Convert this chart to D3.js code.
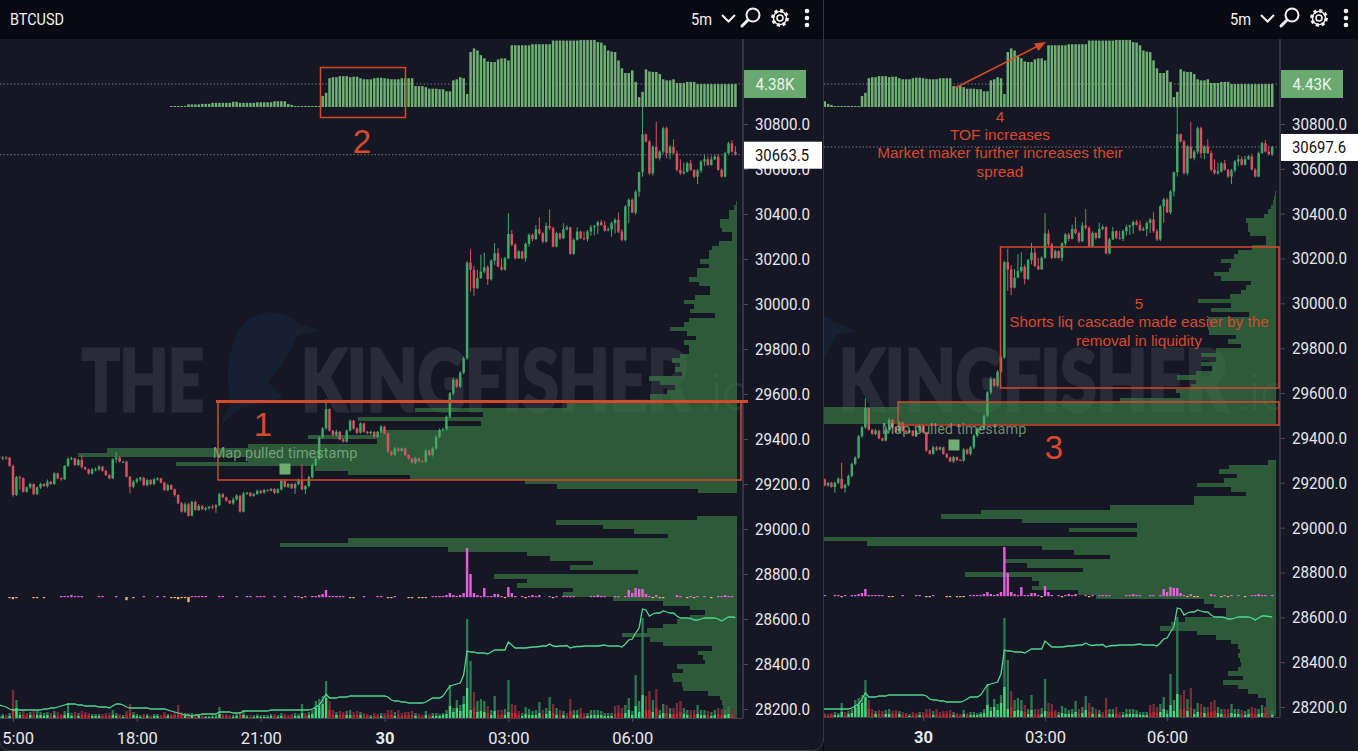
<!DOCTYPE html>
<html><head><meta charset="utf-8">
<style>html,body{margin:0;padding:0;background:#08090e;overflow:hidden}svg{display:block}text{font-family:Roboto,sans-serif}</style>
<script src="https://cdn.jsdelivr.net/npm/d3@7"></script></head><body>
<svg id="c" width="1358" height="751"></svg>
<script>
// candle closes, 5-minute candles, index -4 (14:40) onward
const closes=[29318,29318,29317,29280,29151,29230,29225,29166,29185,29200,29155,29185,29200,29191,29210,29200,29247,29225,29221,29280,29312,29314,29284,29307,29274,29265,29247,29265,29265,29277,29259,29240,29225,29310,29318,29299,29299,29232,29188,29210,29221,29228,29195,29218,29200,29221,29225,29206,29173,29195,29176,29151,29114,29077,29110,29059,29120,29084,29102,29087,29093,29099,29096,29105,29154,29141,29126,29114,29132,29148,29077,29158,29161,29147,29155,29170,29161,29173,29170,29178,29161,29176,29215,29188,29200,29181,29200,29218,29176,29191,29230,29284,29312,29407,29447,29533,29437,29418,29432,29398,29388,29437,29481,29447,29428,29469,29432,29425,29432,29410,29432,29455,29425,29344,29329,29358,29348,29358,29329,29314,29295,29314,29302,29299,29348,29329,29358,29410,29440,29443,29499,29603,29663,29633,29695,29759,30184,
30152,30070,30115,30144,30163,30110,30193,30226,30166,30152,30203,30311,30263,30203,30233,30203,30267,30307,30288,30332,30314,30277,30347,30337,30255,30314,30292,30332,30341,30223,30285,30322,30292,30288,30322,30341,30347,30363,30351,30326,30332,30359,30374,30322,30285,30433,30463,30406,30499,
30585,30754,30722,30581,30699,30648,30677,30781,30670,30699,30670,30596,30581,30588,30625,30596,30566,30593,30633,30643,30618,30643,30655,30596,30566,30670,30714,30677,30664,30698];
const upperWick=[6,6,7,3,7,6,7,4,4,6,3,4,6,5,10,4,7,3,4,4,6,7,3,6,22,4,4,7,9,7,3,4,4,4,25,6,4,3,3,7,7,4,4,6,3,4,4,3,4,7,4,4,3,6,9,7,6,6,9,4,6,3,9,6,7,6,3,3,9,6,3,7,4,4,6,6,4,6,4,4,3,6,6,4,4,4,6,6,71,4,6,6,6,6,6,43,3,3,9,4,4,6,7,4,4,6,4,4,6,3,4,7,4,3,3,7,6,4,3,3,3,6,3,3,7,4,6,6,7,7,6,6,10,4,7,7,6,
60,18,37,75,65,10,6,44,22,37,7,92,18,7,7,4,6,7,7,19,53,7,15,74,7,7,3,27,10,2,7,19,4,30,7,10,4,7,10,19,9,7,7,33,10,7,7,7,7,3,123,4,7,7,111,7,7,7,7,33,12,47,40,7,15,3,7,7,19,12,15,7,12,7,7,7,15,25,4];
const lowerWick=[9,12,10,3,7,4,50,4,6,7,4,4,7,4,7,4,4,4,6,3,4,6,4,4,4,3,6,6,9,6,4,4,4,3,15,4,4,3,30,7,7,9,4,6,6,6,6,3,4,6,3,7,3,4,6,4,3,3,4,3,7,7,7,24,3,4,4,3,6,6,4,3,6,4,4,3,6,4,4,3,6,3,6,4,6,3,25,6,4,20,6,6,6,6,6,6,4,4,6,4,3,4,4,6,6,4,4,4,6,4,3,7,4,7,4,4,7,4,4,6,4,7,6,3,6,4,7,7,7,7,6,6,9,6,7,7,7,
97,34,3,3,7,25,6,19,3,3,3,4,7,7,3,4,15,12,10,3,7,7,4,7,3,3,7,4,6,4,4,3,4,3,10,19,36,36,4,4,3,33,45,7,7,7,74,3,10,22,19,4,7,10,4,10,10,22,27,3,7,7,7,4,4,7,33,10,19,4,3,3,3,4,3,3,4,4,7];
// taker order flow histogram in thousands, index 46 onward
const tofK=[.2,.2,.2,.2,.2,.5,.5,.5,.5,.6,.6,.6,.8,.8,.8,.8,.8,.8,1,1,.8,.8,.8,.8,.8,.9,.9,.9,.9,.9,1.1,1.1,1.1,1.1,.6,.4,.2,.2,.2,.2,.2,.2,.2,.2,2.1,2.7,5.5,5.7,5.7,5.9,5.9,5.9,5.7,5.8,5.8,5.5,5.3,5.3,5.3,5.5,5.6,5.6,5.5,5.4,5.3,5.3,5.3,5.5,5.5,5.5,5.5,4,4,4,3.8,3.5,3.5,3.5,3.4,3.4,3,3,5.1,5.3,5.7,5.5,2.5,10.5,11.2,10.8,9.9,9.3,8.7,8.6,8.6,9.1,9.3,9.3,8.9,11.8,11.8,11.8,11.8,11.8,11.8,12,12,12,12,12,12,12.7,12.7,12.7,12.7,12.7,12.7,12.7,12.7,12.8,12.8,12.8,12.8,12.8,12.4,12.3,11.8,10.8,10.6,10.5,8.9,7.4,6.5,6.5,7,4.8,1.9,2.9,7.2,6.8,6.7,6.7,6.3,5.3,5.1,5.1,5.3,4.6,4.6,4.6,4.8,4.8,4.8,4.38,4.38,4.38,4.38,4.38,4.38,4.38,4.38,4.38,4.38,4.38,4.38,4.43];
// volume (negative = sell candle) and its brighter taker share
const volumes=[3,4,-3,5,-28,18,6,-8,-5,6,-7,7,6,5,6,-5,7,-6,-4,7,15,5,-6,5,-7,-6,-5,4,4,4,-4,-5,-5,8,5,-4,3,-7,-14,6,4,3,-4,4,-3,4,4,-3,-6,4,-4,-6,-13,-6,5,-5,5,-3,4,-3,2,2,3,3,11,-4,-4,-3,3,4,-6,8,3,-3,3,4,3,3,3,4,-4,3,5,-4,-3,-4,5,4,14,-5,6,8,17,19,22,37,-17,-8,6,-7,-6,7,8,-6,-7,6,-5,-4,3,-5,-4,5,-5,-8,-8,6,-8,-5,-6,-6,-7,5,-4,-3,7,-4,5,5,4,5,8,33,10,18,13,22,99,57,-26,17,19,17,-12,8,22,-8,-8,9,38,-14,-13,-7,5,11,9,7,8,16,-8,10,21,-14,10,-8,7,-5,-19,8,8,-10,-5,5,8,8,8,7,5,5,5,-12,-13,-10,13,20,7,43,17,100,-22,-27,18,-29,8,14,-13,10,-10,-15,-17,10,8,-8,-8,13,8,8,-7,6,8,-10,-9,8,12,-10,-2,6];
const brightVol=[1,2,1,2,10,10,3,3,2,3,3,3,3,2,3,2,3,2,2,3,5,2,3,2,3,3,2,2,2,2,2,2,2,3,2,2,1,3,5,3,2,1,2,2,1,2,2,1,3,2,2,3,5,3,2,2,2,1,2,1,1,1,1,1,4,2,2,1,1,2,3,3,1,1,1,2,1,1,1,2,2,1,2,2,1,2,2,2,5,2,3,4,10,12,14,20,8,3,3,3,3,3,3,3,3,3,2,2,1,2,2,2,2,3,3,2,3,2,3,3,3,2,2,1,3,2,2,2,2,3,4,12,6,10,7,14,30,8,10,6,7,6,5,3,7,3,3,3,6,5,5,3,2,4,3,3,3,5,3,4,7,5,3,3,3,2,7,3,3,4,2,2,3,3,3,3,2,2,2,4,5,4,5,8,3,12,6,23,8,8,6,10,3,5,5,4,4,5,6,4,3,3,3,4,3,3,3,2,3,4,3,3,4,4,1,2];
// open-interest style line
const oiLine=[13,12,11,9,8,8,8,8,8,8,8,8,8,9,9,10,10,11,12,13,14,14,14,13,13,12,12,12,12,11,11,11,10,12,14,14,13,11,10,10,10,10,10,10,9,9,9,9,9,8,7,6,5,4,3,3,2,3,3,4,4,4,4,4,6,6,6,6,5,5,5,7,7,7,7,7,7,7,7,8,8,8,8,8,8,8,8,8,8,8,8,9,11,13,18,24,20,20,20,21,21,21,22,22,22,22,22,22,22,22,22,22,22,21,18,17,17,16,16,15,15,15,15,15,16,18,20,20,20,22,27,32,33,34,35,43,67,66,66,65,65,65,64,66,68,68,68,68,76,73,70,70,70,70,70.5,71,71,71.5,72,72,74,72,71.5,72,72,72.5,70,71,71.5,71.5,72,72,72,72,72,72.5,73,72,72,72,72,71,74,78,79,85,90,109,108,102,104,105,105,107,106,105,105,102,100,100,100,99.5,98,98,99,100,100,100,100,99,97,99,101,101,100.5,100];
// liquidations: positive magenta, negative orange
const liquidations=[0,0,0,-1,-2,-1,0,0,0,0,-1,-1,0,-1,0,0,0,0,1,1,1,2,1,1,1,0,0,0,0,1,1,0,0,0,1,0,0,-3,0,-1,0,0,1,0,0,0,1,0,1,0,-1,-1,-2,-1,-1,-5,1,1,1,1,1,0,0,0,1,1,0,0,0,1,0,0,1,1,0,1,1,1,0,0,1,0,0,1,0,0,1,1,-1,1,0,1,1,2,3,7,1,1,1,1,1,0,-1,-1,0,0,1,0,0,0,1,1,0,-1,-1,1,0,0,0,-1,-1,0,-1,-1,-1,0,1,1,1,1,2,4,2,1,2,4,49,23,4,2,1,9,1,1,3,3,1,-1,10,4,1,0,1,-1,1,2,1,2,0,0,1,-1,1,0,1,1,1,1,0,0,0,0,1,1,2,1,1,0,0,1,1,0,1,7,4,9,8,8,3,1,-1,2,-1,-1,0,0,0,2,1,0,-1,1,-1,1,0,1,0,-1,0,1,1,2,1,1,0,1];
// order-book depth per 20 USD price row, top row 30500
const depthLeft=[0,0,1,3,8,8,17,17,15,5,5,18,25,28,28,37,28,40,40,48,38,27,27,42,53,43,47,22,48,53,67,50,41,53,48,48,57,65,57,62,55,88,77,62,70,87,87,170,322,254,379,256,290,357,429,360,489,630,659,489,561,422,389,327,212,180,39,0,0,0,0,0,40,181,134,103,69,389,457,289,210,187,144,167,99,243,210,220,164,174,124,74,47,32,47,60,74,90,115,87,74,25,39,34,32,60,54,65,64,55,54,29,17,15,14,14,14];
const depthRight=[1,2,3,5,8,12,30,28,28,26,10,10,24,38,42,55,45,47,62,55,25,30,35,46,78,45,65,27,68,67,68,67,40,48,35,60,75,60,75,64,80,99,80,85,100,96,156,377,470,470,470,470,0,0,0,0,0,0,0,0,8,47,57,39,52,79,45,30,82,82,166,295,335,254,139,207,139,470,409,234,202,166,271,249,193,311,244,237,244,198,180,72,62,50,50,91,105,116,79,60,45,38,36,38,36,35,38,48,33,53,38,28,18,10,10,12,10];
const priceTicks=[30800,30600,30400,30200,30000,29800,29600,29400,29200,29000,28800,28600,28400,28200];
const timeTicksLeft=[[0,"15:00"],[36,"18:00"],[72,"21:00"],[108,"30"],[144,"03:00"],[180,"06:00"]];
const timeTicksRight=[[108,"30"],[144,"03:00"],[180,"06:00"]];

const firstIdx=-4, tofFirst=46;
const candles=closes.map((c,k)=>{const o=k?closes[k-1]:c+4;return{i:k+firstIdx,o,c,h:Math.max(o,c)+(upperWick[k]??3),l:Math.min(o,c)-(lowerWick[k]??3)}});
const svg=d3.select("#c"), defs=svg.append("defs");
const ORANGE="#d8492b";

svg.append("rect").attr("width",1358).attr("height",751).attr("fill","#08090e");

function watermark(g,dx){
  const w=g.append("g").attr("transform",`translate(${dx},0)`);
  w.append("path").attr("d","M318 331L296 322C278 306 250 310 238 332C226 356 226 384 231 402L221 424L242 408L283 398L268 382C284 364 292 348 298 335Z").attr("fill","#1a2d3d").attr("opacity",.45);
  const t=w.append("g").attr("opacity",.085);
  const big=(s,x,l)=>t.append("text").attr("x",x).attr("y",411).attr("font-size",85).attr("font-weight",900).attr("textLength",l).attr("lengthAdjust","spacingAndGlyphs").attr("fill","#fff").attr("stroke","#fff").attr("stroke-width",3).style("font-family","Lato,Roboto").text(s);
  big("THE",82,122); big("KINGFISHER",301,389);
  w.append("text").attr("x",699).attr("y",410).attr("font-size",50).attr("font-weight",300).attr("fill","#fff").attr("fill-opacity",.09).text(".io");
}

function panel(o){
  const id="clip"+o.name;
  defs.append("clipPath").attr("id",id).append("rect").attr("x",o.x0).attr("y",39).attr("width",o.axisX-o.x0).attr("height",679);
  const root=svg.append("g");
  root.append("rect").attr("x",o.x0).attr("y",0).attr("width",o.x1-o.x0).attr("height",751).attr("rx",0).attr("fill","#151725");
  root.append("rect").attr("x",o.x0).attr("y",0).attr("width",o.x1-o.x0).attr("height",39).attr("fill","#090a11");
  const x=d3.scaleLinear().domain([0,216]).range([o.xAt0,o.xAt0+216*o.step]);
  const y=d3.scaleLinear().domain([30800,28200]).range([124,o.y28200]);
  const plot=root.append("g").attr("clip-path",`url(#${id})`);
  watermark(plot,o.wmDx);
  // depth profile
  const depthX=d3.scaleLinear().domain([0,800]).range([o.edge,o.edge-800]);
  plot.append("g").attr("shape-rendering","crispEdges").selectAll("rect").data(o.depth).join("rect")
    .attr("x",d=>depthX(d)).attr("width",d=>o.edge-depthX(d))
    .attr("y",(d,k)=>y(30500-20*k)).attr("height",(d,k)=>y(30480-20*k)-y(30500-20*k))
    .attr("fill","#3a7e45").attr("fill-opacity",.66);
  // dotted lines
  [84,y(o.last)].forEach(v=>plot.append("line").attr("x1",o.x0).attr("x2",o.axisX).attr("y1",v).attr("y2",v).attr("stroke","#8d909a").attr("stroke-width",1).attr("stroke-dasharray","1.5 2").attr("opacity",.8));
  const cs=candles.filter(d=>d.i<=o.lastIdx);
  // TOF
  const tofY=d3.scaleLinear().domain([0,13]).range([107,39]);
  plot.append("g").selectAll("rect").data(tofK.map((v,k)=>({i:k+tofFirst,v})).filter(d=>d.i<=o.lastIdx)).join("rect")
    .attr("x",d=>x(d.i)-1.2).attr("width",2.5).attr("y",d=>tofY(d.v)).attr("height",d=>107-tofY(d.v)).attr("fill","#6fb073");
  // volumes
  const volY=d3.scaleLinear().domain([0,100]).range([o.base,o.base-100]);
  plot.append("g").selectAll("rect").data(volumes.slice(0,o.lastIdx-firstIdx+1)).join("rect")
    .attr("x",(d,k)=>x(k+firstIdx)-1.1).attr("width",2.3).attr("y",d=>volY(Math.abs(d))).attr("height",d=>o.base-volY(Math.abs(d)))
    .attr("fill",d=>d>=0?"#2d7a50":"#7c2a38");
  plot.append("g").selectAll("rect").data(brightVol.slice(0,o.lastIdx-firstIdx+1)).join("rect")
    .attr("x",(d,k)=>x(k+firstIdx)-1.1).attr("width",2.3).attr("y",d=>volY(d)).attr("height",d=>o.base-volY(d))
    .attr("fill",(d,k)=>volumes[k]>=0?"#44d87d":"#c9252f");
  // liquidations
  const liqY=d3.scaleLinear().domain([0,50]).range([o.liqBase,o.liqBase-50]);
  plot.append("g").selectAll("rect").data(liquidations.slice(0,o.lastIdx-firstIdx+1).map((v,k)=>({i:k+firstIdx,v})).filter(d=>d.v)).join("rect")
    .attr("x",d=>x(d.i)-1.2).attr("width",2.4)
    .attr("y",d=>d.v>0?liqY(d.v):o.liqBase).attr("height",d=>Math.abs(d.v)*1+.2)
    .attr("fill",d=>d.v>0?"#e65fdc":"#f0b06a");
  // candles
  plot.append("g").selectAll("line").data(cs).join("line")
    .attr("x1",d=>x(d.i)).attr("x2",d=>x(d.i)).attr("y1",d=>y(d.h)).attr("y2",d=>y(d.l))
    .attr("stroke",d=>d.c>=d.o?"#40a866":"#d9505f").attr("stroke-width",1);
  plot.append("g").selectAll("rect").data(cs).join("rect")
    .attr("x",d=>x(d.i)-1.25).attr("width",2.5)
    .attr("y",d=>y(Math.max(d.o,d.c))).attr("height",d=>Math.max(1,Math.abs(y(d.o)-y(d.c))))
    .attr("fill",d=>d.c>=d.o?"#40a866":"#d9505f");
  // OI line
  const oiY=d3.scaleLinear().domain([0,100]).range([o.base,o.base-100]);
  plot.append("path").datum(oiLine.slice(0,o.lastIdx-firstIdx+1)).attr("fill","none").attr("stroke","#4fd98f").attr("stroke-width",1.3)
    .attr("d",d3.line().x((d,k)=>x(k+firstIdx)).y(d=>oiY(d)));
  // axes
  const ya=root.append("g").attr("transform",`translate(${o.axisX},0)`)
    .call(d3.axisRight(y).tickValues(priceTicks).tickSize(5).tickPadding(7).tickFormat(d=>d.toFixed(1)));
  ya.select(".domain").remove();
  ya.selectAll("line").attr("stroke","#4a4d5a");
  ya.selectAll("text").attr("fill","#e8e9ee").attr("font-size",17).style("font-family","Roboto").attr("textLength",55).attr("lengthAdjust","spacingAndGlyphs");
  const tick=o.name==="L"?timeTicksLeft:timeTicksRight;
  const xa=root.append("g").attr("transform",`translate(0,${o.base})`)
    .call(d3.axisBottom(x).tickValues(tick.map(d=>d[0])).tickSize(4).tickPadding(10).tickFormat(d=>tick.find(t=>t[0]===d)[1]));
  xa.select(".domain").remove();
  xa.selectAll("line").attr("stroke","#4a4d5a");
  xa.selectAll("text").attr("fill","#e8e9ee").attr("font-size",16.5).attr("font-weight",d=>d===108?700:400).style("font-family","Roboto");
  root.append("line").attr("x1",o.axisX).attr("x2",o.axisX).attr("y1",39).attr("y2",o.base).attr("stroke","#3e414e").attr("stroke-width",1.5);
  root.append("line").attr("x1",o.x0).attr("x2",o.axisX).attr("y1",o.base+.5).attr("y2",o.base+.5).attr("stroke","#3e414e");
  // value boxes
  root.append("rect").attr("x",o.axisX+1).attr("y",70).attr("width",62).attr("height",28).attr("fill","#6aa96f");
  root.append("text").attr("x",o.axisX+32).attr("y",90).attr("text-anchor","middle").attr("font-size",17).attr("fill","#eef3ea").attr("textLength",39).attr("lengthAdjust","spacingAndGlyphs").text(o.tofText);
  root.append("rect").attr("x",o.axisX+1).attr("y",y(o.last)-13).attr("width",78).attr("height",27).attr("fill","#fff");
  root.append("text").attr("x",o.axisX+39).attr("y",y(o.last)+6).attr("text-anchor","middle").attr("font-size",17).attr("fill","#111").attr("textLength",54).attr("lengthAdjust","spacingAndGlyphs").text(o.last.toFixed(1));
  // header controls
  const h=root.append("g").attr("transform",`translate(${o.hdr},0)`);
  h.append("text").attr("x",0).attr("y",24.5).attr("font-size",17).attr("fill","#f2f2f4").attr("textLength",21).attr("lengthAdjust","spacingAndGlyphs").text("5m");
  h.append("path").attr("d","M31 15l6.5 6.5l6.5-6.5").attr("fill","none").attr("stroke","#f2f2f4").attr("stroke-width",2);
  h.append("circle").attr("cx",62).attr("cy",15).attr("r",6.5).attr("fill","none").attr("stroke","#f2f2f4").attr("stroke-width",2);
  h.append("line").attr("x1",57).attr("y1",20).attr("x2",51).attr("y2",26).attr("stroke","#f2f2f4").attr("stroke-width",3).attr("stroke-linecap","round");
  h.append("circle").attr("cx",89).attr("cy",18).attr("r",3).attr("fill","none").attr("stroke","#f2f2f4").attr("stroke-width",1.6);
  h.append("circle").attr("cx",89).attr("cy",18).attr("r",7.2).attr("fill","none").attr("stroke","#f2f2f4").attr("stroke-width",3.4).attr("stroke-dasharray","3 2.65");
  h.append("circle").attr("cx",89).attr("cy",18).attr("r",6.6).attr("fill","none").attr("stroke","#f2f2f4").attr("stroke-width",1.4);
  [11,18,25].forEach(v=>h.append("circle").attr("cx",116).attr("cy",v).attr("r",2.3).attr("fill","#f2f2f4"));
  return root;
}

const L=panel({name:"L",x0:0,x1:823,axisX:743,edge:737,xAt0:13,step:3.44,y28200:709,base:718,liqBase:597,last:30663.5,lastIdx:210,depth:depthLeft,wmDx:0,tofText:"4.38K",hdr:691});
const R=panel({name:"R",x0:824,x1:1358,axisX:1280,edge:1276,xAt0:923-108*3.39,step:3.39,y28200:707,base:717,liqBase:596,last:30697.6,lastIdx:211,depth:depthRight,wmDx:538,tofText:"4.43K",hdr:1230});

// header title and frame
svg.append("text").attr("x",10).attr("y",24.5).attr("font-size",17).attr("fill","#f2f2f4").attr("textLength",54).attr("lengthAdjust","spacingAndGlyphs").text("BTCUSD");
svg.append("line").attr("x1",823.5).attr("x2",823.5).attr("y1",0).attr("y2",741).attr("stroke","#33353f");
svg.append("path").attr("d","M823.5 738Q823.5 750 812 750.5L10 750.5Q0 750 0 742").attr("fill","none").attr("stroke","#3a3c47");

// annotations
const ann=svg.append("g");
const box=(x,y,w,h,sw=1.5)=>ann.append("rect").attr("x",x).attr("y",y).attr("width",w).attr("height",h).attr("fill","none").attr("stroke",ORANGE).attr("stroke-width",sw);
box(218,402,523,78); box(320.5,67.5,85,50); box(898,402,381,23); box(1000.5,247,278.5,141);
ann.append("line").attr("x1",216).attr("x2",748).attr("y1",401.5).attr("y2",401.5).attr("stroke",ORANGE).attr("stroke-width",3);
const label=(t,x,y,s)=>ann.append("text").attr("x",x).attr("y",y).attr("text-anchor","middle").attr("font-size",s).attr("fill",ORANGE).style("font-family","Liberation Sans").text(t);
label("1",263,436,33); label("2",362,153,33); label("3",1054,459,33);
label("4",1000,122,15.3); label("TOF increases",1000,140,15.3); label("Market maker further increases their",1000,158,15.3); label("spread",1000,177,15.3);
label("5",1139,309,15.3); label("Shorts liq cascade made easier by the",1139,327,15.3); label("removal in liquidity",1139,346,15.3);
ann.append("line").attr("x1",955).attr("y1",88).attr("x2",1040).attr("y2",45).attr("stroke",ORANGE).attr("stroke-width",1.6);
ann.append("path").attr("d","M1046 42L1034 43.5L1038.5 51Z").attr("fill",ORANGE);
[[285,"L"],[954,"R"]].forEach(([cx,p])=>{
  const cy=p==="L"?469:445, ty=p==="L"?458:434;
  ann.append("rect").attr("x",cx-5.5).attr("y",cy-5.5).attr("width",11).attr("height",11).attr("fill","#6fae72");
  ann.append("text").attr("x",cx).attr("y",ty).attr("text-anchor","middle").attr("font-size",14.5).attr("fill","#8fbf8f").attr("fill-opacity",.72).style("font-family","Roboto").text("Map pulled timestamp");
});
</script></body></html>
